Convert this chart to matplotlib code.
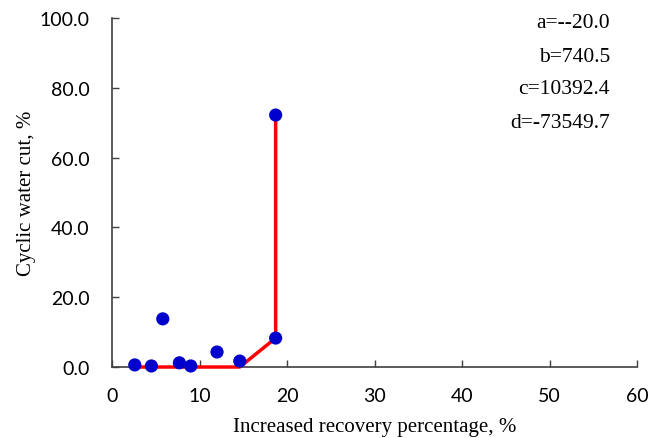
import matplotlib
matplotlib.use("Agg")
import matplotlib.pyplot as plt

# Data points
x_pts = [2.6, 4.5, 5.8, 7.7, 9.0, 12.0, 14.6, 18.7, 18.7]
y_pts = [0.6, 0.3, 13.8, 1.2, 0.3, 4.3, 1.7, 8.3, 72.2]

# Fitted curve
x_fit = [2.6, 14.6, 18.7, 18.7]
y_fit = [0.0, 0.0, 8.3, 72.2]

params = ["a=--20.0", "b=740.5", "c=10392.4", "d=-73549.7"]
x_ticks = [0, 10, 20, 30, 40, 50, 60]
y_ticks = [0, 20, 40, 60, 80, 100]

fig = plt.figure(figsize=(6.49, 4.39), dpi=100)
ax = fig.add_axes([0.1726, 0.1617, 0.809, 0.795])

ax.plot(x_fit, y_fit, color="#ff0000", linewidth=2.5, zorder=4, clip_on=False,
        solid_capstyle="butt")
ax.scatter(x_pts, y_pts, s=90, color="#0000cc", zorder=5, edgecolors="none",
           clip_on=False)

ax.set_xlim(0, 60)
ax.set_ylim(0, 100)
ax.set_xticks(x_ticks)
ax.set_yticks(y_ticks)
ax.set_xticklabels([str(t) for t in x_ticks], fontfamily="Lato", fontsize=14)
ax.set_yticklabels([f"{t:.1f}" for t in y_ticks], fontfamily="Lato", fontsize=14)
ax.tick_params(axis="y", direction="in", length=5, width=1, color="#404040", pad=16)
ax.tick_params(axis="x", direction="in", length=5, width=1, color="#404040", pad=14.5)
for s in ["top", "right"]:
    ax.spines[s].set_visible(False)
for s in ["left", "bottom"]:
    ax.spines[s].set_color("#404040")
    ax.spines[s].set_linewidth(1.2)

ax.set_xlabel("Increased recovery percentage, %", fontfamily="Liberation Serif",
              fontsize=15, va="center")
ax.xaxis.set_label_coords(0.5, -59 / 349)
ax.set_ylabel("Cyclic water cut, %", fontfamily="Liberation Serif", fontsize=15,
              va="center")
ax.yaxis.set_label_coords(-(112 - 26) / 525, 0.5)

ys = [23, 57, 90, 123]
for t, yp in zip(params, ys):
    fig.text(610 / 649, 1 - yp / 439, t, ha="right", va="center",
             fontfamily="Liberation Serif", fontsize=15.5)

fig.savefig("out.png", dpi=100)
